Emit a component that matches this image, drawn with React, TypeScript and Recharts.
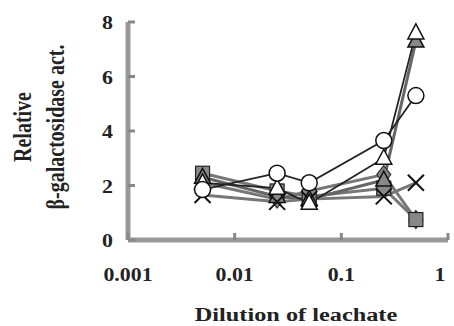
import { Line, LineChart, XAxis, YAxis } from "recharts";

const dilutions = [0.005, 0.025, 0.05, 0.25, 0.5];
const xTicks = [0.001, 0.01, 0.1, 1];
const yTicks = [0, 2, 4, 6, 8];

const filledSquare = [2.45, 1.8, 1.6, 1.9, 0.75];
const filledTriangle = [2.3, 1.6, 1.5, 2.2, 7.3];
const filledDiamond = [2.1, 1.5, 1.8, 2.4, 0.75];
const crosses = [1.65, 1.4, 1.5, 1.6, 2.1];
const openTriangle = [2.1, 1.9, 1.35, 3.0, 7.6];
const openCircle = [1.85, 2.45, 2.1, 3.65, 5.3];

const rows = dilutions.map((d, i) => ({
  d,
  sq: filledSquare[i],
  ft: filledTriangle[i],
  fd: filledDiamond[i],
  x: crosses[i],
  ot: openTriangle[i],
  oc: openCircle[i],
}));

const FONT = '"Liberation Serif", "Times New Roman", serif';

type Shape = "circle" | "triangle" | "square" | "diamond" | "cross";

const marker = (shape: Shape, fill: string) => (props: any) => {
  const { cx, cy, index } = props;
  const k = `${shape}-${fill}-${index}`;
  if (cx == null || cy == null) return <g key={k} />;
  if (shape === "circle")
    return <circle key={k} cx={cx} cy={cy} r={8} fill={fill} stroke="#111" strokeWidth={1.5} />;
  if (shape === "square")
    return <rect key={k} x={cx - 7} y={cy - 7} width={14} height={14} fill={fill} stroke="#222" strokeWidth={1.2} />;
  if (shape === "triangle")
    return (
      <polygon
        key={k}
        points={`${cx},${cy - 9} ${cx + 8},${cy + 6} ${cx - 8},${cy + 6}`}
        fill={fill}
        stroke="#111"
        strokeWidth={1.5}
      />
    );
  if (shape === "diamond")
    return (
      <polygon
        key={k}
        points={`${cx},${cy - 9} ${cx + 7},${cy} ${cx},${cy + 9} ${cx - 7},${cy}`}
        fill={fill}
        stroke="#333"
        strokeWidth={1.2}
      />
    );
  return (
    <g key={k} stroke="#111" strokeWidth={2}>
      <line x1={cx - 8} y1={cy - 8} x2={cx + 8} y2={cy + 8} />
      <line x1={cx - 8} y1={cy + 8} x2={cx + 8} y2={cy - 8} />
    </g>
  );
};

const XTick = (props: any) => {
  const { x, y, payload } = props;
  const dx = payload.value === 1 ? -8 : 0;
  return (
    <g>
      <line x1={x} y1={y - 8} x2={x} y2={y - 15} stroke="#888" strokeWidth={3} />
      <text
        transform={`translate(${x + dx},${y + 33}) scale(1.15,1)`}
        textAnchor="middle"
        fontFamily={FONT}
        fontWeight="bold"
        fontSize={19}
        fill="#222"
      >
        {String(payload.value)}
      </text>
    </g>
  );
};

const YTick = (props: any) => {
  const { x, y, payload } = props;
  return (
    <g>
      <line x1={x + 15} y1={y} x2={x + 22} y2={y} stroke="#888" strokeWidth={3} />
      <text
        transform={`translate(${x},${y + 7}) scale(1.15,1)`}
        textAnchor="end"
        fontFamily={FONT}
        fontWeight="bold"
        fontSize={19}
        fill="#222"
      >
        {payload.value}
      </text>
    </g>
  );
};

export default function App() {
  return (
    <div style={{ position: "absolute", left: 0, top: 0, width: 454, height: 326, background: "#fff" }}>
      <LineChart width={454} height={326} data={rows} margin={{ top: 22, right: 6, bottom: 46, left: 0 }}>
        <XAxis
          dataKey="d"
          type="number"
          scale="log"
          domain={[0.001, 1]}
          ticks={xTicks}
          allowDataOverflow
          height={40}
          axisLine={{ stroke: "#999", strokeWidth: 5 }}
          tickLine={false}
          tickSize={0}
          tickMargin={8}
          tick={<XTick />}
        />
        <YAxis
          type="number"
          domain={[0, 8]}
          ticks={yTicks}
          width={128}
          axisLine={{ stroke: "#999", strokeWidth: 5 }}
          tickLine={false}
          tickSize={0}
          tickMargin={15}
          tick={<YTick />}
        />
        <Line dataKey="fd" stroke="#777" strokeWidth={3} dot={marker("diamond", "#888")} isAnimationActive={false} />
        <Line dataKey="sq" stroke="#777" strokeWidth={3} dot={marker("square", "#888")} isAnimationActive={false} />
        <Line dataKey="ft" stroke="#666" strokeWidth={3} dot={marker("triangle", "#888")} isAnimationActive={false} />
        <Line dataKey="x" stroke="#777" strokeWidth={3} dot={marker("cross", "none")} isAnimationActive={false} />
        <Line dataKey="ot" stroke="#222" strokeWidth={1.8} dot={marker("triangle", "#fff")} isAnimationActive={false} />
        <Line dataKey="oc" stroke="#222" strokeWidth={1.8} dot={marker("circle", "#fff")} isAnimationActive={false} />
      </LineChart>
      <div
        style={{
          position: "absolute",
          left: 39,
          top: 127,
          width: 260,
          transform: "translate(-50%, -50%) scaleX(1.3) rotate(-90deg)",
          textAlign: "center",
          fontFamily: FONT,
          fontWeight: "bold",
          fontSize: 20,
          lineHeight: "25px",
          color: "#222",
        }}
      >
        Relative
        <br />
        β-galactosidase act.
      </div>
      <div
        style={{
          position: "absolute",
          left: 296,
          top: 315,
          transform: "translate(-50%, -50%) scaleX(1.35)",
          whiteSpace: "nowrap",
          fontFamily: FONT,
          fontWeight: "bold",
          fontSize: 18,
          lineHeight: "18px",
          color: "#222",
        }}
      >
        Dilution of leachate
      </div>
    </div>
  );
}
